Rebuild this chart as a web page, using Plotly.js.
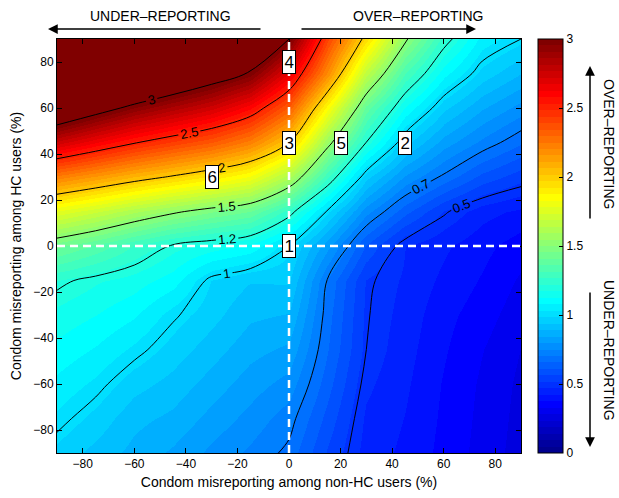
<!DOCTYPE html>
<html>
<head>
<meta charset="utf-8">
<script src="https://cdn.plot.ly/plotly-3.0.1.min.js"></script>
<style>html,body{margin:0;padding:0;background:#fff;}#chart{width:619px;height:498px;}</style>
</head>
<body>
<div id="chart"></div>
<script>
// Condom misreporting among non-HC users (%) -> x ; among HC users (%) -> y
const xVals = [-90, -75, -60, -45, -30, -15, 0, 15, 30, 45, 60, 75, 90];
const yVals = [-90, -75, -60, -45, -30, -15, 0, 15, 30, 45, 60, 75, 90];
// ratio; rows = y (from -90 to 90), columns = x (from -90 to 90)
const rowYm90 = [0.97, 0.92, 0.875, 0.835, 0.784, 0.74, 0.685, 0.555, 0.45, 0.41, 0.36, 0.31, 0.26];
const rowYm75 = [1.02, 0.967, 0.905, 0.878, 0.826, 0.78, 0.723, 0.59, 0.46, 0.42, 0.365, 0.315, 0.265];
const rowYm60 = [1.065, 1.02, 0.956, 0.92, 0.869, 0.82, 0.778, 0.627, 0.48, 0.43, 0.37, 0.32, 0.27];
const rowYm45 = [1.11, 1.072, 1.02, 0.963, 0.911, 0.86, 0.833, 0.657, 0.50, 0.44, 0.38, 0.33, 0.28];
const rowYm30 = [1.157, 1.125, 1.085, 1.01, 0.954, 0.90, 0.888, 0.674, 0.505, 0.45, 0.39, 0.35, 0.30];
const rowYm15 = [1.217, 1.178, 1.149, 1.10, 0.98, 0.94, 0.943, 0.694, 0.512, 0.46, 0.41, 0.37, 0.32];
const rowY0   = [1.42, 1.35, 1.263, 1.19, 1.151, 1.114, 1.0, 0.81, 0.605, 0.47, 0.43, 0.39, 0.35];
const rowY15  = [1.77, 1.69, 1.60, 1.52, 1.454, 1.402, 1.237, 0.99, 0.767, 0.624, 0.51, 0.44, 0.41];
const rowY30  = [2.23, 2.145, 2.06, 1.985, 1.907, 1.82, 1.61, 1.27, 0.956, 0.79, 0.688, 0.594, 0.535];
const rowY45  = [2.74, 2.62, 2.51, 2.42, 2.337, 2.22, 2.0, 1.54, 1.198, 0.953, 0.82, 0.736, 0.66];
const rowY60  = [3.25, 3.09, 2.95, 2.84, 2.736, 2.59, 2.33, 1.84, 1.39, 1.12, 0.95, 0.85, 0.777];
const rowY75  = [3.75, 3.56, 3.4, 3.25, 3.12, 2.98, 2.66, 2.18, 1.66, 1.31, 1.094, 0.966, 0.89];
const rowY90  = [4.25, 4.03, 3.85, 3.65, 3.5, 3.35, 3.0, 2.4, 1.95, 1.52, 1.24, 1.06, 1.0];

const contourLevels = [0.5, 0.7, 1, 1.2, 1.5, 2, 2.5, 3];
const colorTicks = [0, 0.5, 1, 1.5, 2, 2.5, 3];
const xTicks = [-80, -60, -40, -20, 0, 20, 40, 60, 80];
const yTicks = [-80, -60, -40, -20, 0, 20, 40, 60, 80];

const scenarioIds = ['1', '2', '3', '4', '5', '6'];
const scenarioX = [0, 45, 0, 0, 20, -30];
const scenarioY = [0, 45, 45, 80, 45, 30];

const z = [rowYm90, rowYm75, rowYm60, rowYm45, rowYm30, rowYm15, rowY0, rowY15, rowY30, rowY45, rowY60, rowY75, rowY90];

// MATLAB-like jet(64) stepped colour map
function clamp01(v) { return Math.max(0, Math.min(1, v)); }
const jet = [];
const NC = 64;
for (let i = 0; i < NC; i++) {
  const b = clamp01(i <= 7 ? 0.5625 + 0.0625 * i : (i <= 23 ? 1 : 1 - 0.0625 * (i - 23)));
  const g = clamp01(i <= 7 ? 0 : (i <= 23 ? 0.0625 * (i - 7) : (i <= 39 ? 1 : 1 - 0.0625 * (i - 39))));
  const r = clamp01(i <= 23 ? 0 : (i <= 39 ? 0.0625 * (i - 23) : (i <= 55 ? 1 : 1 - 0.0625 * (i - 55))));
  const c = 'rgb(' + Math.round(r * 255) + ',' + Math.round(g * 255) + ',' + Math.round(b * 255) + ')';
  jet.push([i / NC, c]);
  jet.push([(i + 1) / NC, c]);
}

const FONT = 'Liberation Sans, Arial, Helvetica, sans-serif';

const traces = [{
  type: 'heatmap', x: xVals, y: yVals, z: z,
  zmin: 0, zmax: 3, zsmooth: 'best', colorscale: jet, hoverinfo: 'skip',
  colorbar: {
    x: 1.0366, xanchor: 'left', y: 0.5, yanchor: 'middle',
    len: 1, lenmode: 'fraction', thickness: 25, thicknessmode: 'pixels',
    xpad: 0, ypad: 0, outlinewidth: 1, outlinecolor: '#000',
    tickvals: colorTicks, ticks: 'inside', ticklen: 4, tickcolor: '#000',
    tickfont: {family: FONT, size: 12, color: '#000'}
  }
}];

contourLevels.forEach(function (lv) {
  traces.push({
    type: 'contour', x: xVals, y: yVals, z: z,
    autocontour: false, showscale: false, hoverinfo: 'skip',
    contours: {start: lv, end: lv + 0.05, size: 0.1, coloring: 'none', showlabels: true,
      labelformat: '.2~g', labelfont: {family: FONT, size: 13, color: '#000'}},
    line: {color: '#000', width: 1, smoothing: 1}
  });
});

const annotations = [];
scenarioIds.forEach(function (id, i) {
  annotations.push({
    x: scenarioX[i], y: scenarioY[i], xref: 'x', yref: 'y', text: id, showarrow: false,
    xanchor: 'center', yanchor: 'middle',
    font: {family: FONT, size: 17, color: '#000'}, bgcolor: '#fff', bordercolor: '#000',
    borderwidth: 1, borderpad: 1.5
  });
});

function pxX(px) { return (px - 57) / 464; }
function pxY(py) { return (453 - py) / 414; }

function label(px, py, txt, angle) {
  return {xref: 'paper', yref: 'paper', x: pxX(px), y: pxY(py), text: txt, textangle: angle || 0,
    xanchor: 'center', yanchor: 'middle', showarrow: false,
    font: {family: FONT, size: 14, color: '#000'}};
}
function arrow(hx, hy, tx, ty) {
  return {xref: 'paper', yref: 'paper', x: pxX(hx), y: pxY(hy), ax: tx - hx, ay: ty - hy, text: '',
    showarrow: true, arrowhead: 2, arrowsize: 1.3, arrowwidth: 1.5, arrowcolor: '#000'};
}

annotations.push(arrow(48, 29, 262, 29));
annotations.push(arrow(476, 29, 300, 29));
annotations.push(label(160, 16, 'UNDER–REPORTING'));
annotations.push(label(418, 16, 'OVER–REPORTING'));
annotations.push(arrow(590, 66, 590, 220));
annotations.push(arrow(590, 447, 590, 291));
annotations.push(label(609, 144, 'OVER–REPORTING', 90));
annotations.push(label(609, 350, 'UNDER–REPORTING', 90));

const axisCommon = {
  showgrid: false, zeroline: false, showline: true, linecolor: '#000', linewidth: 1,
  mirror: 'ticks', ticks: 'inside', ticklen: 5, tickwidth: 1, tickcolor: '#000',
  tickfont: {family: FONT, size: 12, color: '#000'}
};

const layout = {
  width: 619, height: 498, autosize: false,
  margin: {l: 57, r: 98, t: 39, b: 45, pad: 0},
  paper_bgcolor: '#fff', plot_bgcolor: '#fff',
  showlegend: false,
  xaxis: Object.assign({}, axisCommon, {range: [-90, 90], tickvals: xTicks,
    title: {text: 'Condom misreporting among non-HC users (%)', font: {family: FONT, size: 14, color: '#000'}, standoff: 6}}),
  yaxis: Object.assign({}, axisCommon, {range: [-90, 90], tickvals: yTicks,
    title: {text: 'Condom misreporting among HC users (%)', font: {family: FONT, size: 14, color: '#000'}, standoff: 8}}),
  shapes: [
    {type: 'line', xref: 'x', yref: 'y', x0: 0, x1: 0, y0: -90, y1: 90, line: {color: '#fff', width: 2.5, dash: '8px,5px'}},
    {type: 'line', xref: 'x', yref: 'y', x0: -90, x1: 90, y0: 0, y1: 0, line: {color: '#fff', width: 2.5, dash: '8px,5px'}}
  ],
  annotations: annotations
};

Plotly.newPlot('chart', traces, layout, {displayModeBar: false, staticPlot: true});
</script>
</body>
</html>
